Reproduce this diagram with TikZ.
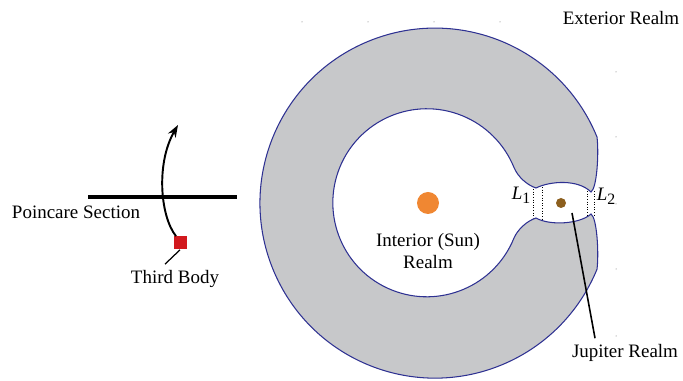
\documentclass[tikz,border=0pt]{standalone}
\usepackage{fontspec}
\setmainfont{Liberation Serif}
\usetikzlibrary{arrows.meta}
\definecolor{ringgray}{RGB}{199,200,202}
\definecolor{ringblue}{RGB}{46,49,146}
\definecolor{sunorange}{RGB}{240,135,50}
\definecolor{jupbrown}{RGB}{140,95,30}
\definecolor{bodyred}{RGB}{210,25,30}
\newcommand{\lpoint}[1]{\textit{L}\raisebox{-0.45ex}{\small #1}}
\begin{document}
\begin{tikzpicture}[x=0.02cm, y=0.02cm, every node/.style={font=\fontsize{10.8}{12.5}\selectfont},
  gate/.style={densely dotted, line width=0.5pt},
  leader/.style={line width=0.9pt}]
\useasboundingbox (0,0) rectangle (683,381);
\foreach \px in {302,368,434,500} \fill[black!60] (\px,359) circle (0.5);
\foreach \py in {309,244,177,112,45} \fill[black!60] (616,\py) circle (0.5);
\draw[ringblue, line width=0.6pt, fill=ringgray]
  (591,189) .. controls (597,193) and (599,228) .. (597,244)
  arc[start angle=22.2, end angle=337.8, radius=175]
  .. controls (599,128) and (597,163) .. (591,167)
  .. controls (580,157) and (550,155) .. (536,163)
  .. controls (527,160) and (518,152) .. (514,143)
  arc[start angle=-22, end angle=-338, radius=94]
  .. controls (518,204) and (527,196) .. (536,193)
  .. controls (550,200) and (578,202) .. cycle;
\draw[gate] (533,192) -- (533,163);
\draw[gate] (542,194) -- (542,162);
\draw[gate] (587,190) -- (587,166);
\draw[gate] (594,190) -- (594,166);
\node (l1) at (521,186) {\lpoint{1}};
\node (l2) at (606,185) {\lpoint{2}};
\node[circle, fill=sunorange, inner sep=0pt, minimum size=0.44cm] (sun) at (428,178) {};
\node[circle, fill=jupbrown, inner sep=0pt, minimum size=0.2cm] (jupiter) at (561,178) {};
\coordinate (jr) at (572,168);
\node[align=center] (interior) at (428,130) {Interior (Sun)\\Realm};
\node (exterior) at (621,363) {Exterior Realm};
\node (jupreal) at (625,28) {Jupiter Realm};
\draw[leader] (jr) -- ([xshift=-0.6cm]jupreal.north);
\draw[line width=2.2pt] (88,184) -- (237,184);
\node (poincare) at (76,169) {Poincare Section};
\node[fill=bodyred, inner sep=0pt, minimum size=0.26cm] (body) at (180,138) {};
\coordinate (tip) at (178,256);
\draw[line width=1.1pt, -{Stealth[length=7pt, width=5pt]}] ([xshift=-0.08cm]body.north) .. controls (160,165) and (156,218) .. (tip);
\node (bodylbl) at (175,102) {Third Body};
\draw[line width=0.7pt] (body.south) -- ([xshift=-0.2cm]bodylbl.north);
\end{tikzpicture}
\end{document}
